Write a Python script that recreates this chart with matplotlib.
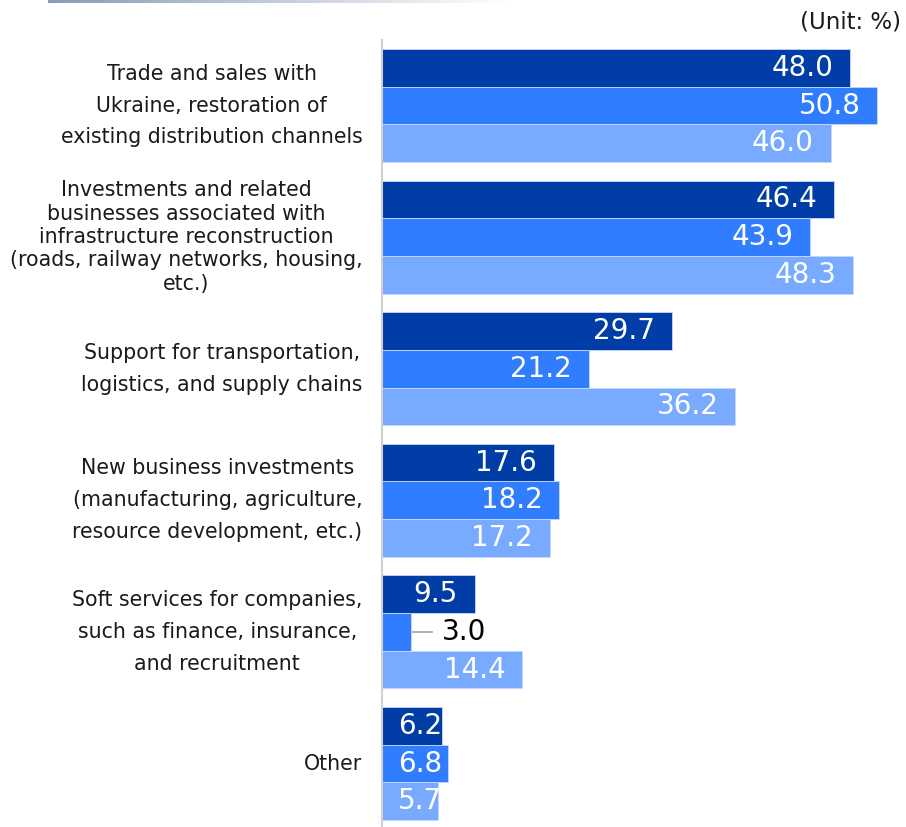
import matplotlib.pyplot as plt
import numpy as np
from matplotlib.colors import LinearSegmentedColormap

categories = [
    "Trade and sales with\nUkraine, restoration of\nexisting distribution channels",
    "Investments and related\nbusinesses associated with\ninfrastructure reconstruction\n(roads, railway networks, housing,\netc.)",
    "Support for transportation,\nlogistics, and supply chains",
    "New business investments\n(manufacturing, agriculture,\nresource development, etc.)",
    "Soft services for companies,\nsuch as finance, insurance,\nand recruitment",
    "Other",
]
series_a = [48.0, 46.4, 29.7, 17.6, 9.5, 6.2]
series_b = [50.8, 43.9, 21.2, 18.2, 3.0, 6.8]
series_c = [46.0, 48.3, 36.2, 17.2, 14.4, 5.7]

colors = ["#003DA6", "#307DFF", "#78AAFF"]

W, H = 906, 827
fig = plt.figure(figsize=(W / 100, H / 100), dpi=100)

# axes placed in pixel terms: left edge at x=382, top at y=40
ax = fig.add_axes([382 / W, 0, (W - 382) / W, (H - 40) / H])

px_per_unit = 9.75
group_px = 131.6
ax.set_xlim(0, (W - 382) / px_per_unit)
top = (105.5 - 40) / group_px
ax.set_ylim((H - 40) / group_px - top, -top)

bar_h = 37.7 / group_px
y = np.arange(len(categories))
offsets = [-bar_h, 0, bar_h]

for series, off, col in zip([series_a, series_b, series_c], offsets, colors):
    ax.barh(y + off, series, height=bar_h, color=col,
            edgecolor="#C8D8F8", linewidth=0.6)
    for yy, v in zip(y + off, series):
        if v < 5:
            # small bar: label outside with a short leader line
            ax.plot([v + 0.2, v + 2.1], [yy, yy], color="#A0A0A0", lw=1.2)
            ax.text(v + 3.1, yy, f"{v:.1f}", color="black", fontsize=20,
                    ha="left", va="center")
        elif v < 8:
            ax.annotate(f"{v:.1f}", (0, yy), xytext=(11.5, 0),
                        textcoords="offset points", color="white",
                        fontsize=20, ha="left", va="center")
        else:
            ax.annotate(f"{v:.1f}", (v, yy), xytext=(-12, 0),
                        textcoords="offset points", color="white",
                        fontsize=20, ha="right", va="center")

# category labels
spacing = [1.74, 1.21, 1.74, 1.74, 1.74, 1.74]
for yy, lab, ls in zip(y, categories, spacing):
    ax.annotate(lab, (0, yy), xytext=(-14, 0), textcoords="offset points",
                ha="right", va="center", multialignment="center",
                fontsize=14.8, linespacing=ls, color="#1a1a1a")

ax.set_xticks([])
ax.set_yticks([])
for s in ["top", "right", "bottom"]:
    ax.spines[s].set_visible(False)
ax.spines["left"].set_color("#D0D0D0")
ax.spines["left"].set_linewidth(1.5)

fig.text(901 / W, 1 - 22 / H, "(Unit: %)", ha="right", va="center",
         fontsize=16.5, color="#1a1a1a")

# faded line along the top edge
grad = fig.add_axes([48 / W, 1 - 3 / H, 460 / W, 3 / H])
g = np.linspace(0, 1, 256).reshape(1, -1)
cmap = LinearSegmentedColormap.from_list("fade", ["#8A9BB8", "#FFFFFF"])
grad.imshow(g, aspect="auto", cmap=cmap)
grad.axis("off")

fig.savefig("out.png", dpi=100)
